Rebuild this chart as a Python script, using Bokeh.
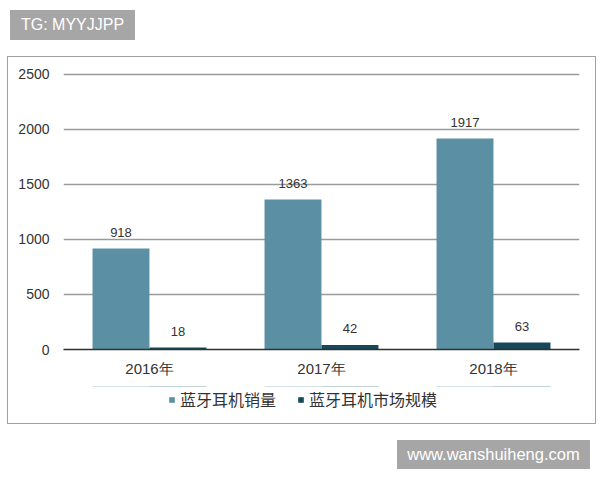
from bokeh.plotting import figure
from bokeh.layouts import column
from bokeh.models import (ColumnDataSource, FactorRange, Range1d, LabelSet, Div,
                          Legend, LegendItem, FixedTicker)
from bokeh.core.properties import value
from bokeh.transform import dodge
from bokeh.embed import file_html
from bokeh.resources import INLINE

# ---- data ----
years = ["2016年", "2017年", "2018年"]
sales = [918, 1363, 1917]
market = [18, 42, 63]
y_ticks = [0, 500, 1000, 1500, 2000, 2500]
series_names = ["蓝牙耳机销量", "蓝牙耳机市场规模"]
watermark_top = "TG: MYYJJPP"
watermark_bottom = "www.wanshuiheng.com"

src = ColumnDataSource(dict(
    year=years, sales=sales, market=market,
    sales_lbl=[str(v) for v in sales], market_lbl=[str(v) for v in market],
))

SALES_C = "#5B8FA3"
MARKET_C = "#17485A"
TXT = "#333333"
FONT = "Liberation Sans"

p = figure(width=587, height=329, x_range=FactorRange(*years), y_range=Range1d(0, 2518),
           output_backend="svg", toolbar_location=None, title=None,
           min_border_left=55, min_border_right=16, min_border_top=15, min_border_bottom=37)
p.outline_line_color = None
p.background_fill_color = "white"
p.border_fill_color = "white"

# y axis
p.yaxis.ticker = FixedTicker(ticks=y_ticks)
p.yaxis.axis_line_color = None
p.yaxis.major_tick_line_color = None
p.yaxis.minor_tick_line_color = None
p.yaxis.major_tick_out = 0
p.yaxis.major_tick_in = 0
p.yaxis.major_label_standoff = 14
p.yaxis.major_label_text_font = FONT
p.yaxis.major_label_text_font_size = "14px"
p.yaxis.major_label_text_color = TXT

# x axis
p.xaxis.axis_line_color = "#303030"
p.xaxis.axis_line_width = 1.5
p.xaxis.major_tick_line_color = None
p.xaxis.minor_tick_line_color = None
p.xaxis.major_tick_out = 0
p.xaxis.major_tick_in = 0
p.xaxis.major_label_standoff = 10
p.xaxis.major_label_text_font = FONT
p.xaxis.major_label_text_font_size = "15px"
p.xaxis.major_label_text_color = TXT

p.xgrid.grid_line_color = None
p.ygrid.grid_line_color = "#9a9a9a"
p.ygrid.grid_line_width = 1.4

off = 0.1657
bw = 0.331
bar_kw = dict(width=bw, source=src, line_color=None)
r1 = p.vbar(x=dodge("year", -off, range=p.x_range), top="sales", fill_color=SALES_C, **bar_kw)
r2 = p.vbar(x=dodge("year", off, range=p.x_range), top="market", fill_color=MARKET_C, **bar_kw)

for col, lbl, o in (("sales", "sales_lbl", -off), ("market", "market_lbl", off)):
    p.add_layout(LabelSet(x=dodge("year", o, range=p.x_range), y=col, text=lbl, source=src,
                          text_align="center", text_baseline="middle", y_offset=16,
                          text_font=value(FONT), text_font_size=value("13px"),
                          text_color=TXT))

# ---- legend strip (its own small canvas, below the chart) ----
# zero-height proxies of the same series, far outside its y window: only legend swatches show
pl = figure(width=587, height=37, x_range=p.x_range, y_range=Range1d(-2000, -1000),
            output_backend="svg", toolbar_location=None, title=None,
            x_axis_type=None, y_axis_type=None,
            min_border_left=0, min_border_right=0, min_border_top=0, min_border_bottom=0)
pl.outline_line_color = None
pl.xgrid.visible = False
pl.ygrid.visible = False
pl.border_fill_color = "white"
pl.background_fill_color = "white"
lr1 = pl.vbar(x=dodge("year", -off, range=p.x_range), top="sales", bottom="sales",
              fill_color=SALES_C, **bar_kw)
lr2 = pl.vbar(x=dodge("year", off, range=p.x_range), top="market", bottom="market",
              fill_color=MARKET_C, **bar_kw)
legend = Legend(items=[LegendItem(label=series_names[0], renderers=[lr1], index=0),
                       LegendItem(label=series_names[1], renderers=[lr2], index=0)],
                orientation="horizontal", location=(105, 12),
                glyph_width=7, glyph_height=7, label_standoff=5, spacing=21,
                padding=0, margin=0, border_line_color=None, background_fill_alpha=0,
                label_text_font="Noto Sans CJK SC", label_text_font_size="16px",
                label_text_color=TXT)
pl.add_layout(legend)

chart_box = column(p, pl, spacing=0, margin=(17, 0, 0, 8),
                   styles={"outline": "1.5px solid #a0a0a0"})

box_style = {"background-color": "#a6a6a6", "color": "white", "font-family": FONT,
             "text-align": "center", "white-space": "nowrap", "overflow": "hidden"}
d_top = Div(text=watermark_top, width=125, height=30, margin=(10, 0, 0, 10),
            styles=dict(box_style, **{"font-size": "16px", "line-height": "30px"}))
d_bot = Div(text=watermark_bottom, width=193, height=29, margin=(17, 0, 0, 397),
            styles=dict(box_style, **{"font-size": "16.5px", "line-height": "29px"}))

layout = column(d_top, chart_box, d_bot, spacing=0)
open("out.html", "w").write(file_html(layout, INLINE))
